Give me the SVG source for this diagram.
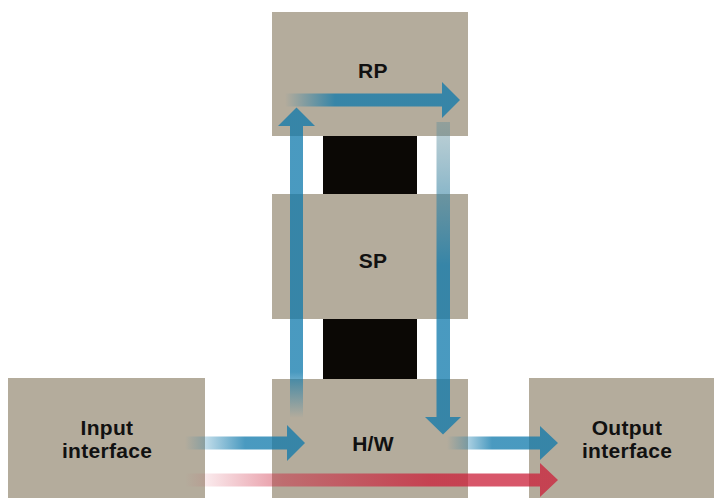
<svg xmlns="http://www.w3.org/2000/svg" width="714" height="498" viewBox="0 0 714 498">
  <defs>
    <style>
      .box { fill: #b4ac9c; }
      .blk { fill: #0b0805; }
      .lbl { font-family: "Liberation Sans", Arial, sans-serif; font-weight: bold; font-size: 21px; fill: #111; text-anchor: middle; letter-spacing: 0.3px; }
    </style>
    <linearGradient id="gIn" gradientUnits="userSpaceOnUse" x1="185" y1="0" x2="245" y2="0">
      <stop offset="0" stop-color="#0d78ab" stop-opacity="0"/>
      <stop offset="1" stop-color="#0d78ab" stop-opacity="0.75"/>
    </linearGradient>
    <linearGradient id="gRed" gradientUnits="userSpaceOnUse" x1="185" y1="0" x2="430" y2="0">
      <stop offset="0" stop-color="#cb1f39" stop-opacity="0"/>
      <stop offset="0.4" stop-color="#cb1f39" stop-opacity="0.45"/>
      <stop offset="1" stop-color="#cb1f39" stop-opacity="0.75"/>
    </linearGradient>
    <linearGradient id="gUp" gradientUnits="userSpaceOnUse" x1="0" y1="418" x2="0" y2="372">
      <stop offset="0" stop-color="#0d78ab" stop-opacity="0"/>
      <stop offset="1" stop-color="#0d78ab" stop-opacity="0.75"/>
    </linearGradient>
    <linearGradient id="gRP" gradientUnits="userSpaceOnUse" x1="285" y1="0" x2="335" y2="0">
      <stop offset="0" stop-color="#0d78ab" stop-opacity="0"/>
      <stop offset="1" stop-color="#0d78ab" stop-opacity="0.75"/>
    </linearGradient>
    <linearGradient id="gDown" gradientUnits="userSpaceOnUse" x1="0" y1="122" x2="0" y2="265">
      <stop offset="0" stop-color="#5e8c99" stop-opacity="0.4"/>
      <stop offset="1" stop-color="#0d78ab" stop-opacity="0.75"/>
    </linearGradient>
    <linearGradient id="gOut" gradientUnits="userSpaceOnUse" x1="447" y1="0" x2="492" y2="0">
      <stop offset="0" stop-color="#0d78ab" stop-opacity="0"/>
      <stop offset="1" stop-color="#0d78ab" stop-opacity="0.75"/>
    </linearGradient>
  </defs>
  <rect width="714" height="498" fill="#ffffff"/>

  <g id="RP">
    <rect class="box" x="272" y="12" width="196" height="124"/>
    <text class="lbl" x="373" y="78">RP</text>
  </g>
  <g id="link1">
    <rect class="blk" x="323" y="136" width="94" height="58"/>
  </g>
  <g id="SP">
    <rect class="box" x="272" y="194" width="196" height="125"/>
    <text class="lbl" x="373" y="268">SP</text>
  </g>
  <g id="link2">
    <rect class="blk" x="323" y="319" width="94" height="60"/>
  </g>
  <g id="HW">
    <rect class="box" x="272" y="379" width="196" height="119"/>
    <text class="lbl" x="373" y="451">H/W</text>
  </g>
  <g id="Input">
    <rect class="box" x="8" y="378" width="197" height="120"/>
    <text class="lbl" x="107" y="435">Input</text>
    <text class="lbl" x="107" y="458">interface</text>
  </g>
  <g id="Output">
    <rect class="box" x="529" y="378" width="185" height="120"/>
    <text class="lbl" x="627" y="435">Output</text>
    <text class="lbl" x="627" y="458">interface</text>
  </g>

  <g id="connectors">
    <path d="M185,436.5 H287 V425 L305,443 L287,461 V449.5 H185 Z" fill="url(#gIn)"/>
    <path d="M185,473.5 H540 V463 L558,480 L540,497 V486.5 H185 Z" fill="url(#gRed)"/>
    <path d="M290,418 V126 H278 L296.5,107.5 L315,126 H303 V418 Z" fill="url(#gUp)"/>
    <path d="M285,93.5 H442 V82 L460,100 L442,118 V106.5 H285 Z" fill="url(#gRP)"/>
    <path d="M436.5,122 V417 H425 L443,434.5 L461,417 H450 V122 Z" fill="url(#gDown)"/>
    <path d="M447,436.5 H540 V426 L558,443 L540,460 V449.5 H447 Z" fill="url(#gOut)"/>
  </g>
</svg>
